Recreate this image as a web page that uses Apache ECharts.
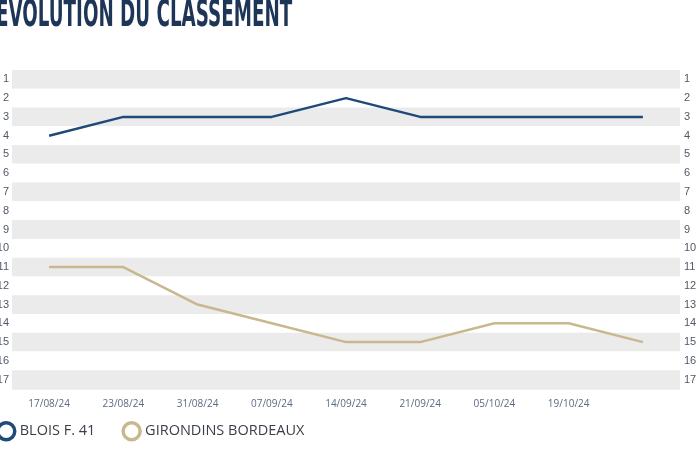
<!DOCTYPE html>
<html><head><meta charset="utf-8">
<script src="https://cdn.jsdelivr.net/npm/echarts@6/dist/echarts.min.js"></script>
<style>html,body{margin:0;padding:0;background:#fff}#c{width:700px;height:450px}</style>
</head><body><div id="c"></div>
<script>
const dates = ['17/08/24','23/08/24','31/08/24','07/09/24','14/09/24','21/09/24','05/10/24','19/10/24',''];
const ranks = ['1','2','3','4','5','6','7','8','9','10','11','12','13','14','15','16','17'];
const blois = [4,3,3,3,2,3,3,3,3];
const bordeaux = [11,11,13,14,15,15,14,14,15];
const titleText = 'ÉVOLUTION DU CLASSEMENT';

const chart = echarts.init(document.getElementById('c'));
const toIdx = a => a.map(v => v - 1);
chart.setOption({
  animation: false,
  graphic: [{
    type: 'text', left: -4, top: -3, scaleX: 0.535,
    style: { text: titleText, font: 'bold 38px "DejaVu Sans Condensed", "Liberation Sans Narrow", sans-serif', fill: '#1d3658' }
  }],
  legend: {
    left: -9, top: 416, icon: 'circle', itemWidth: 17, itemHeight: 17, itemGap: 26,
    textStyle: { fontFamily: 'Open Sans', fontSize: 14.5, color: '#3a3f47' },
    data: [
      { name: 'BLOIS F. 41', itemStyle: { color: '#fff', borderColor: '#1f4a78', borderWidth: 3.5 } },
      { name: 'GIRONDINS BORDEAUX', itemStyle: { color: '#fff', borderColor: '#c9b88f', borderWidth: 3.5 } }
    ]
  },
  grid: { left: 12, right: 20, top: 70, bottom: 61, containLabel: false, outerBoundsMode: 'none' },
  xAxis: {
    type: 'category', data: dates, boundaryGap: true,
    axisLine: { show: true, lineStyle: { color: '#eef0f2' } }, axisTick: { show: false },
    axisLabel: { color: '#5b6b80', fontSize: 10, margin: 10, interval: 0, fontFamily: 'Open Sans' },
    splitLine: { show: false }
  },
  yAxis: [{
    type: 'category', data: ranks, inverse: true, position: 'left',
    axisLine: { show: false }, axisTick: { show: false },
    axisLabel: { color: '#4e5a6a', fontSize: 11, margin: 3, fontFamily: 'Liberation Sans' },
    splitLine: { show: false },
    splitArea: { show: true, areaStyle: { color: ['#ebebeb', '#ffffff'] } }
  }, {
    type: 'category', data: ranks, inverse: true, position: 'right',
    axisLine: { show: false }, axisTick: { show: false },
    axisLabel: { color: '#4e5a6a', fontSize: 11, margin: 4, fontFamily: 'Liberation Sans' },
    splitLine: { show: false }, splitArea: { show: false }
  }],
  series: [{
    name: 'BLOIS F. 41', type: 'line', data: toIdx(blois), showSymbol: false, symbol: 'none',
    lineStyle: { color: '#1f4a78', width: 2.5 }, itemStyle: { color: '#1f4a78' }
  }, {
    name: 'GIRONDINS BORDEAUX', type: 'line', data: toIdx(bordeaux), showSymbol: false, symbol: 'none',
    lineStyle: { color: '#c9b88f', width: 2.5 }, itemStyle: { color: '#c9b88f' }
  }]
});
</script></body></html>
